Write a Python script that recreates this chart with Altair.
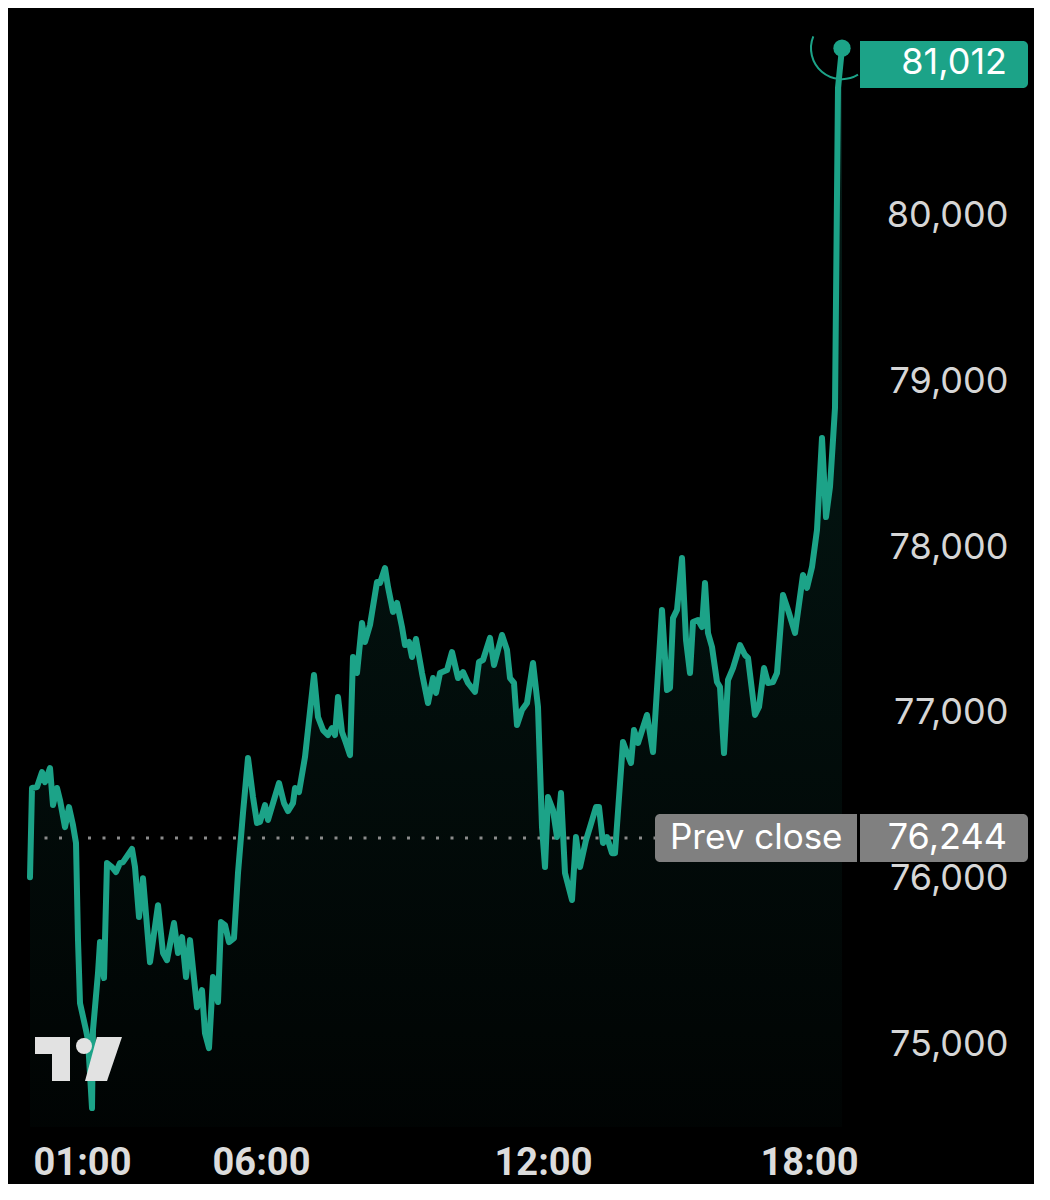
import altair as alt
import pandas as pd

# position of each sample along the session (bar slot) and its price
bar_slot = [0, 2, 7, 12, 15, 20, 23, 27, 30, 35, 39, 43, 46, 48, 50, 56, 58, 62, 63, 68,
            70, 74, 77, 82, 86, 90, 93, 102, 105, 109, 113, 120, 128, 133, 137, 144, 148, 152, 156, 160,
            167, 172, 175, 179, 183, 188, 191, 195, 199, 204, 208, 213, 218, 223, 227, 230, 235, 238, 243, 249,
            254, 258, 263, 265, 269, 275, 284, 288, 293, 298, 302, 305, 308, 312, 316, 320, 323, 327, 332, 335,
            340, 347, 350, 355, 358, 363, 367, 372, 375, 379, 382, 386, 392, 398, 403, 406, 410, 417, 422, 428,
            433, 438, 445, 449, 453, 460, 464, 472, 477, 480, 484, 487, 492, 497, 503, 508, 512, 515, 518, 523,
            527, 531, 535, 542, 546, 550, 556, 560, 566, 569, 573, 577, 582, 585, 593, 597, 601, 604, 608, 617,
            623, 632, 637, 640, 643, 647, 652, 656, 660, 663, 668, 672, 675, 678, 682, 687, 690, 694, 698, 703,
            710, 715, 718, 725, 729, 734, 738, 743, 747, 753, 758, 765, 773, 777, 782, 787, 792, 796, 800, 803,
            805, 808, 812]
price = [76008, 76546, 76552, 76642, 76582, 76667, 76443, 76546, 76473, 76310, 76431, 76322, 76214, 75628, 75248, 75085, 75024, 74614, 75085, 75429,
         75616, 75399, 76093, 76069, 76039, 76093, 76099, 76178, 76069, 75767, 76002, 75495, 75839, 75550, 75507, 75731, 75550, 75646, 75405, 75628,
         75223, 75326, 75066, 74976, 75405, 75254, 75737, 75719, 75616, 75640, 76033, 76395, 76727, 76492, 76335, 76341, 76443, 76353, 76455, 76576,
         76455, 76407, 76455, 76546, 76522, 76733, 77228, 76975, 76896, 76866, 76908, 76866, 77095, 76884, 76818, 76745, 77337, 77240, 77542, 77428,
         77530, 77790, 77784, 77874, 77760, 77609, 77663, 77518, 77409, 77428, 77337, 77446, 77240, 77059, 77210, 77120, 77240, 77258, 77367, 77210,
         77246, 77180, 77126, 77307, 77319, 77452, 77289, 77470, 77379, 77210, 77180, 76926, 77017, 77059, 77301, 77035, 76310, 76069, 76492, 76413,
         76250, 76516, 76033, 75870, 76250, 76069, 76232, 76310, 76431, 76431, 76214, 76250, 76153, 76153, 76824, 76757, 76697, 76896, 76818, 76987,
         76763, 77621, 77138, 77150, 77572, 77621, 77935, 77440, 77240, 77548, 77560, 77518, 77784, 77482, 77397, 77186, 77156, 76757, 77198, 77270,
         77409, 77349, 77331, 76987, 77035, 77270, 77180, 77186, 77240, 77711, 77621, 77482, 77832, 77754, 77880, 78104, 78659, 78182, 78364, 78647,
         78841, 80773, 81012]

x_tick_pos = [52, 231, 513, 779]
x_tick_labels = ["01:00", "06:00", "12:00", "18:00"]
y_ticks = [75000, 76000, 77000, 78000, 79000, 80000]
prev_close = 76244
prev_close_label = "Prev close"
last_label = "81,012"
prev_value_label = "76,244"

TEAL = "#1ca388"
GRAY_BOX = "#808080"
LOGO = "#e2e2e2"
W, H = 830, 1110

df = pd.DataFrame({"t": bar_slot, "price": price})
last = df.tail(1)
one = pd.DataFrame({"k": [0]})

x_scale = alt.Scale(domain=[0, 830], nice=False, zero=False)
y_scale = alt.Scale(domain=[74500, 81200], nice=False, zero=False)

label_expr = "".join(
    f"datum.value == {p} ? '{l}' : " for p, l in zip(x_tick_pos, x_tick_labels)
) + "''"

x_axis = alt.Axis(values=x_tick_pos, labelExpr=label_expr, grid=False, domain=False,
                  ticks=False, tickSize=0, labelFont="Roboto", labelFontSize=38,
                  labelFontWeight="bold", labelColor="#dcdcdc", labelPadding=36,
                  labelBaseline="middle", labelFlush=False, labelOverlap=False)
y_axis = alt.Axis(orient="right", values=y_ticks, format=",",
                  labelExpr="format(datum.value, ',')", grid=False, domain=False,
                  ticks=False, tickSize=0, labelFont="Inter", labelFontSize=36,
                  labelColor="#d6d6d6", labelAlign="right", labelPadding=148,
                  labelBaseline="middle", labelFlush=False, labelOverlap=False)

x_enc = alt.X("t:Q", scale=x_scale, title=None, axis=x_axis)
y_enc = alt.Y("price:Q", scale=y_scale, title=None, axis=y_axis)

gradient = alt.Gradient(
    gradient="linear",
    stops=[alt.GradientStop(color="rgba(26,158,134,0.18)", offset=0),
           alt.GradientStop(color="rgba(26,158,134,0.025)", offset=1)],
    x1=1, x2=1, y1=0, y2=1,
)

area = alt.Chart(df).mark_area(color=gradient).encode(
    x=x_enc, y=y_enc, y2=alt.datum(74500)
)

rule = alt.Chart(one).mark_rule(color="#8c8c8c", strokeWidth=3, strokeDash=[3, 11.5]).encode(
    y=alt.Y(datum=prev_close, type="quantitative", scale=y_scale, title=None, axis=y_axis),
    x=alt.value(0), x2=alt.value(625)
)

line = alt.Chart(df).mark_line(color=TEAL, strokeWidth=6, strokeJoin="round", strokeCap="round").encode(
    x=x_enc, y=y_enc
)

ring = alt.Chart(last).mark_arc(color=TEAL, radius=32, radius2=30, theta=2.6, theta2=5.1).encode(
    x=x_enc, y=y_enc
)

dot = alt.Chart(last).mark_circle(color=TEAL, size=300, opacity=1).encode(
    x=x_enc, y=y_enc
)

pc_y = (81200 - prev_close) / 6700 * H

last_box = alt.Chart(one).mark_rect(color=TEAL, cornerRadiusTopRight=5, cornerRadiusBottomRight=5).encode(
    x=alt.value(830), x2=alt.value(998), y=alt.value(24), y2=alt.value(71)
)
last_text = alt.Chart(one).mark_text(text=last_label, font="Inter", fontSize=36, color="white",
                                     align="right", baseline="middle").encode(
    x=alt.value(977), y=alt.value(46)
)

pc_box = alt.Chart(one).mark_rect(color=GRAY_BOX, cornerRadiusTopLeft=5, cornerRadiusBottomLeft=5).encode(
    x=alt.value(625), x2=alt.value(827), y=alt.value(pc_y - 24), y2=alt.value(pc_y + 24)
)
pv_box = alt.Chart(one).mark_rect(color=GRAY_BOX, cornerRadiusTopRight=5, cornerRadiusBottomRight=5).encode(
    x=alt.value(830), x2=alt.value(998), y=alt.value(pc_y - 24), y2=alt.value(pc_y + 24)
)
pc_text = alt.Chart(one).mark_text(text=prev_close_label, font="Inter", fontSize=35, color="white",
                                   align="left", baseline="middle").encode(
    x=alt.value(640), y=alt.value(pc_y)
)
pv_text = alt.Chart(one).mark_text(text=prev_value_label, font="Inter", fontSize=36, color="white",
                                   align="right", baseline="middle").encode(
    x=alt.value(977), y=alt.value(pc_y)
)

# TradingView logo
logo_bar = alt.Chart(one).mark_rect(color=LOGO).encode(
    x=alt.value(5), x2=alt.value(40), y=alt.value(1020), y2=alt.value(1037)
)
logo_stem = alt.Chart(one).mark_rect(color=LOGO).encode(
    x=alt.value(22), x2=alt.value(40), y=alt.value(1020), y2=alt.value(1064)
)
logo_dot = alt.Chart(one).mark_point(shape="circle", filled=True, color=LOGO, size=256, opacity=1).encode(
    x=alt.value(54), y=alt.value(1029)
)
logo_slash = alt.Chart(one).mark_point(shape="M -0.3 -1 L 0.84 -1 L 0.16 1 L -0.84 1 Z",
                                       filled=True, color=LOGO, size=1936, opacity=1).encode(
    x=alt.value(73.5), y=alt.value(1042)
)

chart = alt.layer(
    area, rule, line, ring, dot,
    pc_box, pv_box, pc_text, pv_text, last_box, last_text,
    logo_bar, logo_stem, logo_dot, logo_slash,
).properties(
    width=W, height=H,
    autosize=alt.AutoSizeParams(type="none"),
    padding={"left": 22, "top": 9, "right": 174, "bottom": 57},
    background="black",
).configure_view(stroke=None)

chart.save("out.html", embed_options={"renderer": "svg", "actions": False})
